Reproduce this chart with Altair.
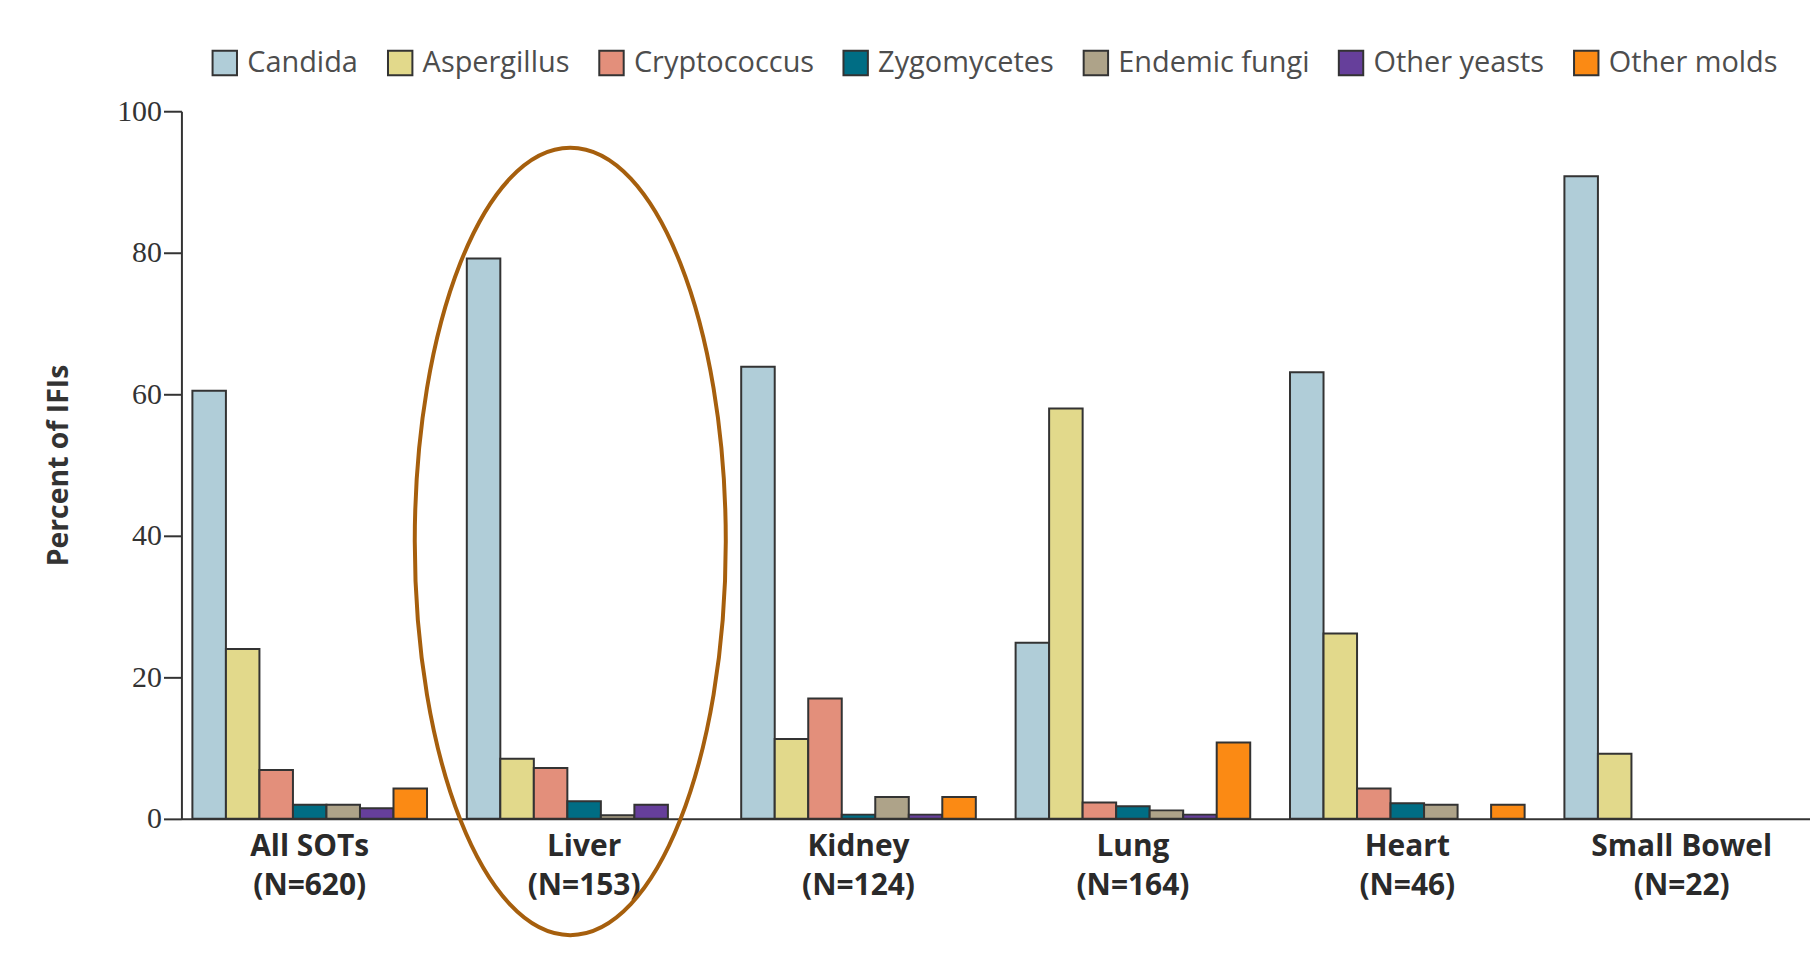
import altair as alt
import pandas as pd

groups = ["All SOTs|(N=620)", "Liver|(N=153)", "Kidney|(N=124)",
          "Lung|(N=164)", "Heart|(N=46)", "Small Bowel|(N=22)"]
fungi = ["Candida", "Aspergillus", "Cryptococcus", "Zygomycetes",
         "Endemic fungi", "Other yeasts", "Other molds"]
colors = ["#b0cdd8", "#e2d98b", "#e38f7b", "#006d84", "#aea389", "#663f9b", "#fb8a14"]

candida = [60.5, 79.2, 63.9, 24.9, 63.1, 90.8]
aspergillus = [24.0, 8.5, 11.3, 58.0, 26.2, 9.2]
cryptococcus = [6.9, 7.2, 17.0, 2.3, 4.3, 0]
zygomycetes = [2.0, 2.5, 0.6, 1.8, 2.2, 0]
endemic = [2.0, 0.5, 3.1, 1.2, 2.0, 0]
other_yeasts = [1.5, 2.0, 0.6, 0.6, 0, 0]
other_molds = [4.3, 0, 3.1, 10.8, 2.0, 0]

series = [candida, aspergillus, cryptococcus, zygomycetes, endemic, other_yeasts, other_molds]

rows = []
for f, vals in zip(fungi, series):
    for g, v in zip(groups, vals):
        rows.append({"group": g, "fungus": f, "value": v})
df = pd.DataFrame(rows)

# highlight ellipse around the Liver group
ellipse_group = ["Liver|(N=153)"]
ellipse_fungus = ["Cryptococcus"]
ellipse_center = [39.2]
ell = pd.DataFrame({"group": ellipse_group, "fungus": ellipse_fungus, "value": ellipse_center})
ellipse_path = "M -0.345 0 A 0.395 1 0 1 0 0.445 0 A 0.395 1 0 1 0 -0.345 0 Z"

x_enc = alt.X("group:N", sort=groups, title=None,
              scale=alt.Scale(domain=groups, paddingInner=0.145, paddingOuter=0.04),
              axis=alt.Axis(labelExpr="split(datum.label, '|')", labelAngle=0,
                            labelFont="Open Sans", labelFontWeight="bold",
                            labelFontSize=30, labelLineHeight=39, labelColor="#2a2a2a",
                            labelPadding=13, labelLimit=0, ticks=False,
                            domainColor="#333", domainWidth=2))
xo_enc = alt.XOffset("fungus:N", sort=fungi,
                     scale=alt.Scale(domain=fungi, paddingInner=0, paddingOuter=0))
y_enc = alt.Y("value:Q", scale=alt.Scale(domain=[0, 100], nice=False),
              title="Percent of IFIs",
              axis=alt.Axis(values=[0, 20, 40, 60, 80, 100], grid=False,
                            labelFont="Liberation Serif", labelFontSize=30,
                            labelColor="#333", labelPadding=2, tickSize=18,
                            tickColor="#333", tickWidth=2, domainColor="#333",
                            domainWidth=2, titleFont="Open Sans",
                            titleFontWeight="bold", titleFontSize=28.5,
                            titleColor="#333", titleX=-108))

bars = alt.Chart(df).transform_filter("datum.value > 0").mark_bar(
    stroke="#333", strokeWidth=2, opacity=1
).encode(
    x=x_enc, xOffset=xo_enc, y=y_enc,
    color=alt.Color("fungus:N", sort=fungi,
                    scale=alt.Scale(domain=fungi, range=colors),
                    legend=alt.Legend(title=None, orient="none", direction="horizontal",
                                      legendX=29, legendY=-63,
                                      labelFont="Open Sans", labelFontSize=29,
                                      labelColor="#4d4d4d", labelLimit=0,
                                      symbolType="square",
                                      symbolSize=600, symbolStrokeColor="#333",
                                      symbolStrokeWidth=2, symbolOpacity=1,
                                      labelOffset=8, columnPadding=25))
)

ellipse = alt.Chart(ell).mark_point(
    shape=ellipse_path, size=624100, filled=False, stroke="#a65f0d",
    strokeWidth=4, opacity=1
).encode(x=alt.X("group:N", sort=groups), xOffset=alt.XOffset("fungus:N", sort=fungi),
         y=alt.Y("value:Q"))

chart = alt.layer(bars, ellipse).properties(
    width=1634, height=710,
    autosize=alt.AutoSizeParams(type="none"),
    padding={"left": 174, "top": 102, "right": 0, "bottom": 130},
).configure_view(stroke=None)

chart.save("out.html", embed_options={"renderer": "svg", "actions": False})
